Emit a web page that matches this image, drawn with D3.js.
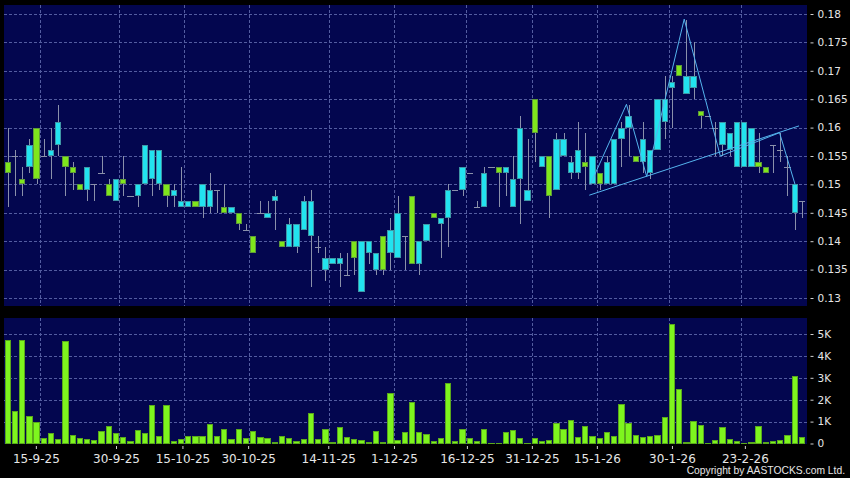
<!DOCTYPE html>
<html>
<head>
<meta charset="utf-8">
<script src="https://cdn.jsdelivr.net/npm/d3@7"></script>
<style>
  body { margin: 0; background: #000; }
  svg { display: block; }
  text { font-family: "DejaVu Sans", sans-serif; fill: #e6e6e6; }
</style>
</head>
<body>
<svg id="chart" width="850" height="478"></svg>
<script>
/************************************ Data *******************************/
// one entry per trading day, oldest first
var opens = [0.154,0.155,0.151,0.153,0.160,0.155,0.155,0.157,0.155,0.153,
             0.150,0.149,0.150,0.152,0.150,0.147,0.151,0.148,0.148,0.150,
             0.151,0.150,0.150,0.148,0.146,0.146,0.147,0.146,0.146,0.149,
             0.146,0.145,0.145,0.142,0.141,0.145,0.144,0.147,0.140,0.139,
             0.139,0.142,0.141,0.139,0.135,0.136,0.136,0.134,0.140,0.131,
             0.138,0.135,0.141,0.138,0.137,0.141,0.148,0.136,0.140,0.145,
             0.143,0.144,0.149,0.149,0.152,0.146,0.146,0.153,0.153,0.152,
             0.146,0.151,0.147,0.165,0.153,0.155,0.149,0.155,0.152,0.152,
             0.154,0.150,0.152,0.150,0.150,0.158,0.160,0.155,0.154,0.152,
             0.156,0.161,0.167,0.171,0.166,0.167,0.163,0.162,0.160,0.157,
             0.156,0.153,0.153,0.153,0.154,0.153,0.157,0.156,0.153,0.145,
             0.147];
var highs = [0.160,0.156,0.153,0.158,0.160,0.158,0.160,0.164,0.155,0.154,
             0.150,0.153,0.150,0.155,0.151,0.151,0.155,0.148,0.150,0.157,
             0.156,0.156,0.150,0.150,0.153,0.147,0.147,0.150,0.152,0.149,
             0.150,0.146,0.145,0.143,0.141,0.147,0.147,0.149,0.140,0.144,
             0.143,0.148,0.149,0.141,0.139,0.137,0.138,0.138,0.140,0.140,
             0.140,0.138,0.141,0.144,0.148,0.141,0.148,0.140,0.143,0.145,
             0.144,0.150,0.149,0.153,0.152,0.147,0.153,0.153,0.153,0.153,
             0.155,0.162,0.158,0.165,0.155,0.155,0.159,0.159,0.155,0.161,
             0.159,0.155,0.152,0.155,0.158,0.161,0.164,0.155,0.161,0.156,
             0.165,0.169,0.169,0.171,0.179,0.175,0.163,0.162,0.161,0.161,
             0.159,0.161,0.161,0.160,0.159,0.153,0.157,0.159,0.155,0.150,
             0.147];
var lows  = [0.146,0.148,0.148,0.152,0.150,0.155,0.151,0.155,0.148,0.149,
             0.149,0.147,0.147,0.152,0.148,0.147,0.148,0.148,0.146,0.150,
             0.148,0.149,0.146,0.146,0.146,0.146,0.146,0.144,0.145,0.145,
             0.145,0.145,0.142,0.142,0.138,0.145,0.144,0.142,0.139,0.139,
             0.138,0.142,0.132,0.138,0.133,0.136,0.132,0.134,0.134,0.131,
             0.136,0.134,0.134,0.135,0.137,0.135,0.136,0.134,0.140,0.144,
             0.137,0.139,0.149,0.148,0.152,0.146,0.146,0.153,0.146,0.148,
             0.146,0.143,0.147,0.154,0.153,0.144,0.149,0.155,0.151,0.151,
             0.149,0.150,0.149,0.150,0.150,0.153,0.155,0.154,0.152,0.151,
             0.156,0.158,0.160,0.169,0.166,0.165,0.160,0.162,0.155,0.155,
             0.155,0.153,0.153,0.153,0.152,0.152,0.152,0.154,0.148,0.142,
             0.144];
var closes = [0.152,0.155,0.150,0.157,0.151,0.155,0.156,0.161,0.153,0.152,
              0.149,0.153,0.150,0.152,0.148,0.151,0.150,0.148,0.150,0.157,
              0.156,0.156,0.148,0.149,0.147,0.147,0.146,0.150,0.149,0.149,
              0.145,0.146,0.143,0.142,0.138,0.145,0.145,0.148,0.139,0.143,
              0.143,0.147,0.147,0.139,0.137,0.137,0.137,0.134,0.137,0.140,
              0.140,0.138,0.135,0.142,0.145,0.141,0.136,0.140,0.143,0.144,
              0.144,0.149,0.149,0.153,0.152,0.146,0.152,0.153,0.152,0.153,
              0.151,0.160,0.149,0.159,0.155,0.148,0.158,0.158,0.154,0.156,
              0.153,0.155,0.150,0.154,0.158,0.160,0.162,0.154,0.158,0.156,
              0.165,0.165,0.168,0.169,0.169,0.169,0.162,0.162,0.160,0.161,
              0.159,0.161,0.161,0.160,0.153,0.152,0.157,0.156,0.153,0.150,
              0.147];
var volumes = [4700,1470,4700,1240,940,230,470,180,4670,380,
               230,180,150,560,790,470,290,100,600,470,
               1740,300,1740,80,180,330,330,330,880,330,
               640,180,650,210,560,290,240,50,300,240,
               90,180,1390,180,640,50,740,290,180,150,
               60,530,50,2290,120,520,1890,480,400,100,
               250,2760,100,660,230,80,660,20,20,500,
               610,250,20,250,90,150,930,640,1040,290,
               770,340,210,490,340,1760,930,350,280,320,
               370,1180,5420,2470,30,1000,840,20,150,720,
               170,90,10,50,780,50,90,120,370,3060,
               260];

// x axis: labels sit at these (fractional) day positions
var dateLabels = ["15-9-25","30-9-25","15-10-25","30-10-25","14-11-25","1-12-25",
                  "16-12-25","31-12-25","15-1-26","30-1-26","23-2-26"];
var dateTickPos = [3.9, 15.0, 24.2, 33.3, 44.4, 53.5, 63.6, 72.6, 81.6, 92.0, 102.1];
var dateGridPos = [4.5, 15.4, 24.4, 33.4, 44.5, 53.5, 63.5, 72.6, 81.6, 91.6, 101.6];

var priceTicks = [0.13,0.135,0.14,0.145,0.15,0.155,0.16,0.165,0.17,0.175,0.18];
var volTicks = [0,1000,2000,3000,4000,5000];
var volTickLabels = ["0","1K","2K","3K","4K","5K"];

// drawn pattern: zigzag and neckline, as [day, price]
var zigzag = [[80.7,0.150],[85.7,0.1641],[88.5,0.1514],[93.7,0.1791],
              [98.7,0.155],[106.9,0.1591],[109.05,0.150]];
var neckline = [[80.55,0.1481],[109.6,0.1603]];

/************************************ Scales *******************************/
var svg = d3.select("#chart");
var plotL = 4, plotR = 807;
var mainT = 5, mainB = 306;
var volT = 318, volB = 444;

var x = d3.scaleLinear().domain([0, 110]).range([7.7, 801.9]);
var bodyW = 6.3;
var y = d3.scaleLinear().domain([0.13, 0.18]).range([298, 14]);
var yv = d3.scaleLinear().domain([0, 5000]).range([443.5, 334]);

var gridColor = "#535ca0";
var wickColor = "#8a90aa";

/************************************ Panels *******************************/
svg.append("rect").attr("width", 850).attr("height", 478).attr("fill", "#000");

svg.append("rect")
	.attr("x", plotL).attr("y", mainT)
	.attr("width", plotR - plotL).attr("height", mainB - mainT)
	.attr("fill", "#03064f");
svg.append("rect")
	.attr("x", plotL).attr("y", volT)
	.attr("width", plotR - plotL).attr("height", volB - volT)
	.attr("fill", "#03064f");

// grid
var grid = svg.append("g")
	.attr("stroke", gridColor).attr("stroke-width", 1)
	.attr("stroke-dasharray", "3,2").attr("shape-rendering", "crispEdges");

grid.selectAll("line.hp").data(priceTicks).enter().append("line")
	.attr("x1", plotL).attr("x2", plotR)
	.attr("y1", function(d){ return Math.round(y(d)) + 0.5; })
	.attr("y2", function(d){ return Math.round(y(d)) + 0.5; });

grid.selectAll("line.hv").data(volTicks.slice(1)).enter().append("line")
	.attr("x1", plotL).attr("x2", plotR)
	.attr("y1", function(d){ return Math.round(yv(d)) + 0.5; })
	.attr("y2", function(d){ return Math.round(yv(d)) + 0.5; });

grid.selectAll("line.vm").data(dateGridPos).enter().append("line")
	.attr("x1", function(d){ return Math.round(x(d)) + 0.5; })
	.attr("x2", function(d){ return Math.round(x(d)) + 0.5; })
	.attr("y1", mainT).attr("y2", mainB);

grid.selectAll("line.vv").data(dateGridPos).enter().append("line")
	.attr("x1", function(d){ return Math.round(x(d)) + 0.5; })
	.attr("x2", function(d){ return Math.round(x(d)) + 0.5; })
	.attr("y1", volT).attr("y2", volB);

/************************************ Candles *******************************/
var days = d3.range(opens.length);
var candles = svg.append("g").attr("shape-rendering", "crispEdges");

candles.selectAll("line.wick").data(days).enter().append("line")
	.attr("x1", function(i){ return Math.round(x(i)) + 0.5; })
	.attr("x2", function(i){ return Math.round(x(i)) + 0.5; })
	.attr("y1", function(i){ return y(highs[i]); })
	.attr("y2", function(i){ return y(lows[i]); })
	.attr("stroke", wickColor);

// open == close: flat grey dash
candles.selectAll("line.doji").data(days.filter(function(i){ return opens[i] == closes[i]; }))
	.enter().append("line")
	.attr("x1", function(i){ return x(i) - bodyW / 2; })
	.attr("x2", function(i){ return x(i) + bodyW / 2; })
	.attr("y1", function(i){ return Math.round(y(opens[i])) + 0.5; })
	.attr("y2", function(i){ return Math.round(y(opens[i])) + 0.5; })
	.attr("stroke", wickColor);

candles.selectAll("rect.body").data(days.filter(function(i){ return opens[i] != closes[i]; }))
	.enter().append("rect")
	.attr("x", function(i){ return x(i) - bodyW / 2 + 0.5; })
	.attr("y", function(i){ return y(Math.max(opens[i], closes[i])) + 0.5; })
	.attr("width", bodyW - 1)
	.attr("height", function(i){ return Math.abs(y(opens[i]) - y(closes[i])) - 1; })
	.attr("fill", function(i){ return closes[i] > opens[i] ? "#22e3ef" : "#7fe61c"; })
	.attr("stroke", function(i){ return closes[i] > opens[i] ? "#3e97a6" : "#5f9a3a"; });

/************************************ Pattern lines *******************************/
var line = d3.line()
	.x(function(d){ return x(d[0]); })
	.y(function(d){ return y(d[1]); });

svg.append("path").datum(zigzag)
	.attr("d", line).attr("fill", "none")
	.attr("stroke", "#55b4ee").attr("stroke-width", 1);
svg.append("path").datum(neckline)
	.attr("d", line).attr("fill", "none")
	.attr("stroke", "#55b4ee").attr("stroke-width", 1);

/************************************ Volume *******************************/
svg.append("g").attr("shape-rendering", "crispEdges")
	.selectAll("rect").data(days).enter().append("rect")
	.attr("x", function(i){ return x(i) - bodyW / 2 + 0.5; })
	.attr("y", function(i){ return yv(volumes[i]); })
	.attr("width", bodyW - 1)
	.attr("height", function(i){ return Math.max(0, yv(0) - yv(volumes[i])); })
	.attr("fill", "#7ef51e")
	.attr("stroke", "#5aa81c");

/************************************ Axes *******************************/
var priceAxis = svg.append("g")
	.attr("transform", "translate(810.5,0)")
	.call(d3.axisRight(y).tickValues(priceTicks).tickSize(3).tickPadding(4)
		.tickFormat(function(d){ return d3.format("")(+d.toFixed(3)); }));

var volAxis = svg.append("g")
	.attr("transform", "translate(810.5,0)")
	.call(d3.axisRight(yv).tickValues(volTicks).tickSize(3).tickPadding(4)
		.tickFormat(function(d, i){ return volTickLabels[i]; }));

var dateAxis = svg.append("g")
	.attr("transform", "translate(0,446)")
	.call(d3.axisBottom(x).tickValues(dateTickPos).tickSize(3).tickPadding(5)
		.tickFormat(function(d, i){ return dateLabels[i]; }));

[priceAxis, volAxis, dateAxis].forEach(function(a){
	a.select(".domain").remove();
	a.selectAll(".tick line").attr("stroke", "#d0d0d0");
	a.selectAll("text").attr("fill", "#e6e6e6").style("font-family", "DejaVu Sans");
});
priceAxis.selectAll("text").style("font-size", "10.5px");
volAxis.selectAll("text").style("font-size", "10.5px");
dateAxis.selectAll("text").style("font-size", "12px");

svg.append("text")
	.attr("x", 845).attr("y", 474)
	.attr("text-anchor", "end")
	.style("font-family", "'Liberation Sans', sans-serif")
	.style("font-size", "10.3px")
	.text("Copyright by AASTOCKS.com Ltd.");
</script>
</body>
</html>
